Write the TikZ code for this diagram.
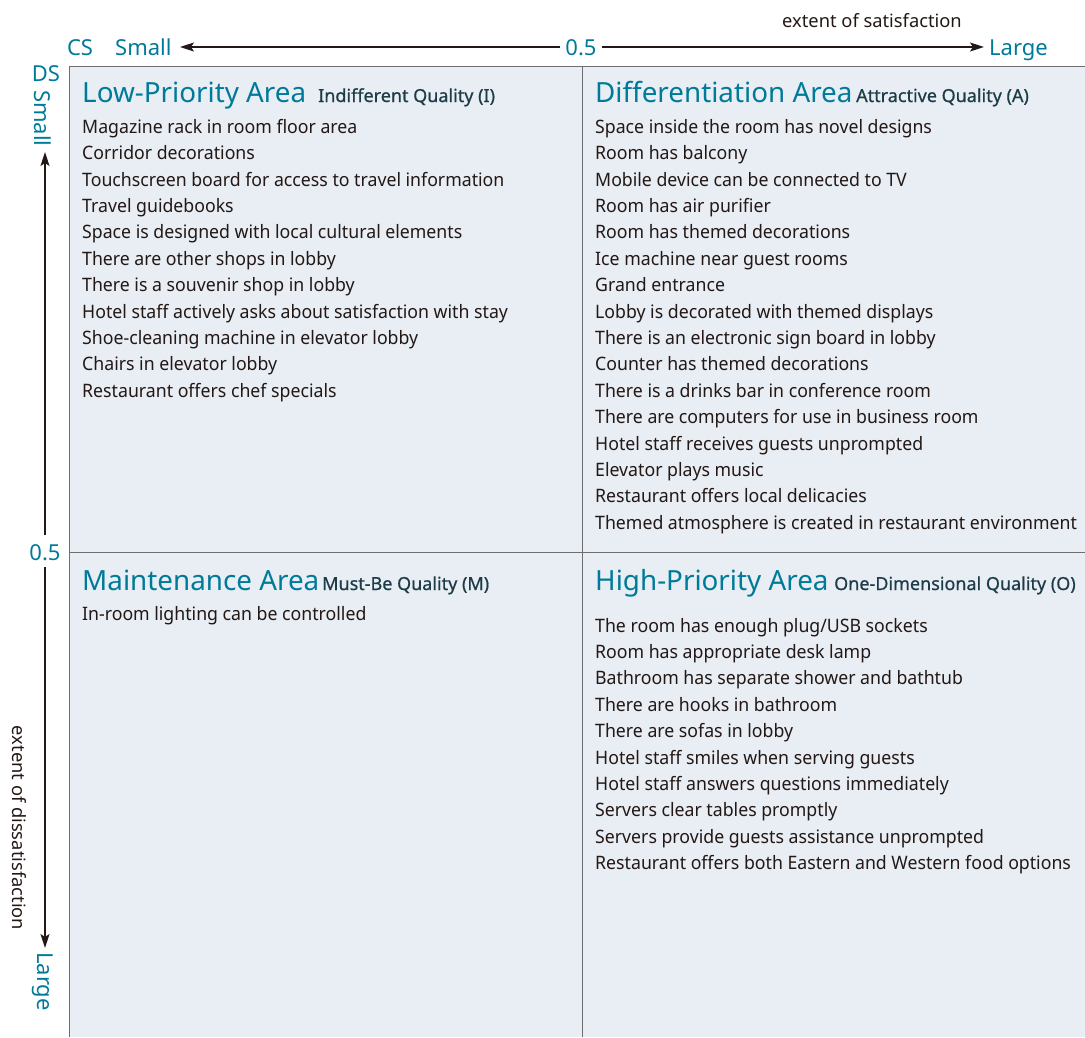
\documentclass[tikz,border=0pt]{standalone}
\usepackage{fontspec}
\setmainfont{Noto Sans}
\newfontfamily\bodyfont[FakeStretch=0.957]{Noto Sans}
\newfontfamily\qualfont[FakeBold=0.7]{Noto Sans}
\usetikzlibrary{arrows.meta}
\definecolor{teal}{RGB}{0,122,153}
\definecolor{slate}{RGB}{30,60,72}
\definecolor{ink}{RGB}{35,24,21}
\definecolor{panel}{RGB}{232,238,244}
\definecolor{rule}{RGB}{110,110,110}
\tikzset{
  axislab/.style={text=teal,font=\fontsize{22}{22}\selectfont,inner sep=0pt},
  axisname/.style={text=ink,font=\fontsize{18.3}{18.3}\selectfont,inner sep=0pt},
  areatitle/.style={text=teal,font=\fontsize{27.8}{27.8}\selectfont,inner sep=0pt,anchor=base west},
  quality/.style={text=slate,font=\qualfont\fontsize{18}{18}\selectfont,inner sep=0pt,anchor=base west},
  item/.style={text=ink,font=\bodyfont\fontsize{18.5}{18.5}\selectfont,inner sep=0pt,anchor=base west},
  axisarrow/.style={draw=ink,line width=1.3pt,-{Stealth[length=14pt,width=9pt,inset=3pt]}}
}
\newcommand{\itemlist}[4]{% x, first baseline, prefix, list
  \foreach \t [count=\i from 0] in {#4}
    \node[item] (#3\i) at (#1,{#2+26.4*\i}) {\t};
}
\begin{document}
\begin{tikzpicture}[x=1pt,y=-1pt]
\useasboundingbox (0,0) rectangle (1085,1037);
% quadrant panel
\fill[panel] (69,66) rectangle (1085,1037);
\draw[rule,line width=1pt] (1085,66) -- (69,66) -- (69,1037);
\draw[rule,line width=1pt] (582,66) -- (582,1037);
\draw[rule,line width=1pt] (69,552) -- (1085,552);

% horizontal axis (CS)
\node[axislab,anchor=base] (cs) at (80,55) {CS};
\node[axislab,anchor=base west] (csSmall) at (115,55) {Small};
\node[axislab,anchor=base] (csMid) at (581,55) {0.5};
\node[axislab,anchor=base west] (csLarge) at (989,55) {Large};
\node[axisname,anchor=base] (csName) at (872,27) {extent of satisfaction};
\coordinate (hl) at (180,47);
\coordinate (hr) at (984,47);
\draw[axisarrow] (csMid.west |- hl) ++(-5,0) -- (hl);
\draw[axisarrow] (csMid.east |- hr) ++(5,0) -- (hr);

% vertical axis (DS)
\node[axislab,anchor=base] (ds) at (46,81) {DS};
\node[axislab,anchor=west,rotate=-90] (dsSmall) at (43,90) {Small};
\node[axislab,anchor=base] (dsMid) at (45,560) {0.5};
\node[axislab,anchor=west,rotate=-90] (dsLarge) at (43,952) {Large};
\node[axisname,anchor=center,rotate=-90] (dsName) at (19.5,828) {extent of dissatisfaction};
\coordinate (vt) at (45,152);
\coordinate (vb) at (45,948);
\draw[axisarrow] (45,535) -- (vt);
\draw[axisarrow] (45,567) -- (vb);

% Low-Priority Area
\node[areatitle] (t1) at (82,102) {Low-Priority Area};
\node[quality] (q1) at (318,102) {Indifferent Quality (I)};
\itemlist{82}{133.3}{a}{Magazine rack in room floor area,Corridor decorations,Touchscreen board for access to travel information,Travel guidebooks,Space is designed with local cultural elements,There are other shops in lobby,There is a souvenir shop in lobby,Hotel staff actively asks about satisfaction with stay,Shoe-cleaning machine in elevator lobby,Chairs in elevator lobby,Restaurant offers chef specials}

% Differentiation Area
\node[areatitle] (t2) at (595,102) {Differentiation Area};
\node[quality] (q2) at (856,102) {Attractive Quality (A)};
\itemlist{595}{133.3}{b}{Space inside the room has novel designs,Room has balcony,Mobile device can be connected to TV,Room has air purifier,Room has themed decorations,Ice machine near guest rooms,Grand entrance,Lobby is decorated with themed displays,There is an electronic sign board in lobby,Counter has themed decorations,There is a drinks bar in conference room,There are computers for use in business room,Hotel staff receives guests unprompted,Elevator plays music,Restaurant offers local delicacies,Themed atmosphere is created in restaurant environment}

% Maintenance Area
\node[areatitle] (t3) at (82,590) {Maintenance Area};
\node[quality] (q3) at (322,590) {Must-Be Quality (M)};
\itemlist{82}{620}{c}{In-room lighting can be controlled}

% High-Priority Area
\node[areatitle] (t4) at (595,590) {High-Priority Area};
\node[quality] (q4) at (834,590) {One-Dimensional Quality (O)};
\itemlist{595}{632}{d}{The room has enough plug/USB sockets,Room has appropriate desk lamp,Bathroom has separate shower and bathtub,There are hooks in bathroom,There are sofas in lobby,Hotel staff smiles when serving guests,Hotel staff answers questions immediately,Servers clear tables promptly,Servers provide guests assistance unprompted,Restaurant offers both Eastern and Western food options}
\end{tikzpicture}
\end{document}
